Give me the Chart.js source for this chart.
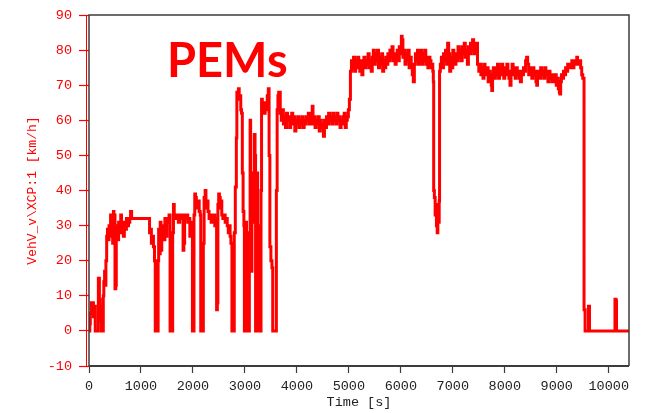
<!DOCTYPE html>
<html>
<head>
<meta charset="utf-8">
<title>VehV_v</title>
<script src="https://cdn.jsdelivr.net/npm/chart.js@4.4.1/dist/chart.umd.min.js"></script>
<style>
  html, body { margin: 0; padding: 0; background: #fff; }
  #speedChart { display: block; }
</style>
</head>
<body>
<canvas id="speedChart" width="649" height="413"></canvas>
<script>
// Vehicle speed trace [time s, speed km/h], split by drive phase
const urbanTrace = [
  [0,0],[15,2],[25,5],[45,8],[70,8],[85,4],[95,7],[110,7],[120,0],[170,0],[180,15],[195,15],
  [200,9],[215,7],[235,3],[240,0],[270,0],[275,10],[285,14],[300,17],[315,13],[325,20],[340,27],
  [355,29],[370,26],[385,30],[400,28],[415,33],[425,27],[440,31],[455,25],[470,34],[480,29],
  [490,33],[500,12],[515,13],[525,28],[540,30],[555,26],[570,31],[590,29],[610,33],[625,28],
  [640,30],[660,27],[680,31],[700,29],[720,32],[740,30],[760,31],[785,32],[800,34],[820,32],
  [900,32],[1000,32],[1100,32],[1150,32],[1165,28],[1185,29],[1200,25],[1215,27],[1240,24],
  [1260,20],[1275,0],[1320,0],[1330,20],[1340,29],[1355,22],[1370,31],[1385,23],[1400,28],
  [1420,30],[1440,26],[1460,32],[1480,27],[1500,31],[1520,32],[1540,33],[1560,0],[1600,0],
  [1610,28],[1625,36],[1640,33],[1660,33],[1680,32],[1700,33],[1720,31],[1745,32],[1760,33],
  [1790,32],[1810,23],[1825,25],[1840,33],[1860,32],[1880,33],[1900,31],[1920,32],[1940,27],
  [1960,31],[1975,29],[1990,0],[2010,0],[2020,33],[2035,39],[2050,38],[2065,36],[2085,35],
  [2100,37],[2120,34],[2140,33],[2150,0],[2190,0],[2200,25],[2215,38],[2235,40],[2250,35],
  [2270,37],[2290,34],[2310,32],[2330,33],[2350,31],[2370,32],[2385,31],[2400,33],[2420,30],
  [2440,32],[2455,6],[2470,8],[2480,36],[2495,39],[2510,38],[2525,35],[2540,37],[2555,33],
  [2575,32],[2600,33],[2620,31],[2640,32],[2660,30],[2680,28],[2700,30],[2715,27],[2730,25],
  [2750,0],[2780,0],[2795,28],[2815,41],[2835,55],[2845,68],[2860,67],[2875,69],[2890,66],
  [2905,67],[2920,63],[2935,62],[2950,45],[2965,34],[2980,30],[2990,0],[3005,0],[3015,31],
  [3030,28],[3045,27],[3060,0],[3075,0],[3085,20],[3100,60],[3110,30],[3120,17],[3135,31],
  [3150,38],[3165,45],[3180,56],[3195,50],[3205,0],[3220,0],[3230,45],[3245,30],[3260,15],
  [3275,0],[3300,0],[3310,40],[3320,66],[3335,63],[3350,64],[3370,62],[3390,65],[3410,63],
  [3430,67],[3450,69],[3465,50],[3480,24],[3500,20],[3520,18],[3535,0],[3590,0],[3605,40],
  [3620,63],[3635,67],[3650,68]
];

const ruralTrace = [
  [3680,62],[3700,60],[3720,63],[3740,59],[3760,61],[3780,58],[3800,62],[3820,60],[3840,61],
  [3860,58],[3880,60],[3900,62],[3920,59],[3940,61],[3960,57],[3980,60],[4000,59],[4020,61],
  [4040,58],[4060,60],[4080,59],[4100,61],[4120,58],[4140,60],[4160,59],[4180,61],[4200,60],
  [4220,62],[4240,59],[4260,61],[4280,60],[4295,64],[4310,59],[4330,61],[4350,58],[4370,60],
  [4390,59],[4410,61],[4430,57],[4450,60],[4470,58],[4490,59],[4510,55.5],[4530,60],[4550,58],
  [4570,61],[4590,59],[4610,62],[4630,60],[4650,61],[4670,59],[4690,62],[4710,60],[4730,61],
  [4750,59],[4770,62],[4790,60],[4810,61],[4830,58],[4850,60],[4870,59],[4890,61],[4910,62],
  [4930,58],[4950,60],[4970,61],[4990,63],[5010,66]
];

const motorwayTrace = [
  [5030,74],[5050,77],[5070,75],[5090,78],[5110,74],[5130,77],[5150,75],[5170,78],[5190,76],
  [5210,74],[5230,77],[5250,73],[5270,76],[5290,78],[5310,75],[5330,77],[5350,76],[5370,79],
  [5390,75],[5410,77],[5430,74],[5450,78],[5470,80],[5490,76],[5510,79],[5530,77],[5550,80],
  [5570,75],[5590,78],[5610,76],[5630,79],[5650,74],[5670,77],[5690,75],[5710,78],[5730,76],
  [5750,79],[5770,77],[5790,80],[5810,78],[5830,81],[5850,77],[5870,79],[5890,76],[5910,78],
  [5930,80],[5950,77],[5970,81],[5990,79],[6010,84],[6025,83],[6040,78],[6060,80],[6080,76],
  [6100,79],[6120,77],[6140,80],[6160,75],[6180,78],[6200,76],[6220,73],[6240,71],[6260,76],
  [6280,79],[6300,77],[6320,80],[6340,76],[6360,78],[6380,80],[6400,76],[6420,79],[6440,77],
  [6460,80],[6480,76],[6500,78],[6520,75],[6540,78],[6560,77],[6580,75],[6600,76],[6615,74],
  [6625,71],[6632,40],[6645,38],[6660,33],[6672,36],[6685,30],[6700,28],[6712,34],[6725,31],
  [6738,37],[6745,74],[6760,76],[6780,78],[6800,75],[6820,79],[6840,77],[6860,80],[6880,76],
  [6900,82],[6920,79],[6940,74],[6960,78],[6980,75],[7000,80],[7020,78],[7040,76],[7060,79],
  [7080,77],[7100,81],[7120,78],[7140,80],[7160,77],[7180,81],[7200,79],[7220,82],[7240,78],
  [7260,80],[7280,76],[7300,81],[7320,79],[7340,82],[7360,80],[7380,83],[7400,79],[7420,82],
  [7440,81],[7460,82],[7475,76],[7500,74],[7520,76],[7540,73],[7560,75],[7580,72],[7600,76],
  [7620,74],[7640,73],[7660,75],[7680,71],[7700,74],[7720,72],[7740,70],[7750,68.5],[7765,73],
  [7780,75],[7800,72],[7820,75],[7840,73],[7860,76],[7880,72],[7900,75],[7920,73],[7940,76],
  [7960,74],[7980,72],[8000,75],[8020,73],[8040,76],[8060,74],[8080,72],[8100,70],[8120,74],
  [8140,76],[8160,73],[8180,75],[8200,72],[8220,75],[8240,73],[8260,74],[8280,72],[8300,71],
  [8320,74],[8340,73],[8360,75],[8380,74],[8400,77],[8420,78],[8440,76],[8460,73],[8480,75],
  [8500,74],[8520,72],[8540,75],[8560,73],[8580,74],[8600,71],[8615,70],[8630,73],[8650,74],
  [8670,72],[8690,75],[8710,73],[8730,74],[8750,72],[8770,75],[8790,73],[8810,74],[8830,71],
  [8850,74],[8870,72],[8890,73],[8910,71],[8930,73],[8950,71],[8970,73],[8990,70],[9010,72],
  [9030,69],[9050,68],[9060,67.5],[9075,71],[9090,73],[9110,72],[9130,74],[9150,73],[9170,75],
  [9190,74],[9210,76],[9230,75],[9250,76],[9270,75],[9290,77],[9310,75],[9330,76],[9350,77],
  [9370,76],[9385,78],[9400,77],[9420,76],[9440,77],[9460,75],[9480,73],[9500,72],[9515,72]
];

const stopTrace = [
  [9525,6],[9540,6],[9545,0],[9600,0],[9610,7],[9625,7],[9630,0],[10110,0],[10120,9],
  [10140,8.5],[10150,0],[10390,0]
];

const xTickValues = [0, 1000, 2000, 3000, 4000, 5000, 6000, 7000, 8000, 9000, 10000];
const xMax = 10390;
const yMin = -10;
const yMax = 90;
const yStep = 10;

const chartTitle = 'PEMs';
const xAxisTitle = 'Time [s]';
const yAxisTitle = 'VehV_v\\XCP:1 [km/h]';

const traceColor = '#ff0000';
const frameColor = '#3c3c3c';
const monoFont = '"Liberation Mono", "DejaVu Sans Mono", monospace';

const tracePoints = [...urbanTrace, ...ruralTrace, ...motorwayTrace, ...stopTrace]
  .map(([t, v]) => ({ x: t, y: v }));

// frame around the plot, red speed axis line and the big caption
const framePlugin = {
  id: 'plotFrame',
  afterDraw(chart) {
    const { ctx, chartArea: a } = chart;
    ctx.save();
    ctx.strokeStyle = frameColor;
    ctx.lineWidth = 1.5;
    ctx.beginPath();
    ctx.moveTo(a.left, a.bottom);
    ctx.lineTo(a.left, a.top);
    ctx.lineTo(a.right, a.top);
    ctx.lineTo(a.right, a.bottom);
    ctx.stroke();

    ctx.lineWidth = 2;
    ctx.beginPath();
    ctx.moveTo(a.left, a.bottom);
    ctx.lineTo(a.right, a.bottom);
    ctx.stroke();

    // speed axis sits just left of the frame
    ctx.strokeStyle = traceColor;
    ctx.lineWidth = 1;
    ctx.beginPath();
    ctx.moveTo(Math.round(a.left) - 2.5, a.top);
    ctx.lineTo(Math.round(a.left) - 2.5, a.bottom);
    ctx.stroke();

    ctx.fillStyle = traceColor;
    ctx.font = 'bold 47px Lato, "Open Sans", sans-serif';
    ctx.textBaseline = 'alphabetic';
    ctx.textAlign = 'left';
    ctx.fillText(chartTitle, 167, 77);
    ctx.restore();
  }
};

const ctx = document.getElementById('speedChart').getContext('2d');
new Chart(ctx, {
  type: 'line',
  data: {
    datasets: [{
      data: tracePoints,
      borderColor: traceColor,
      borderWidth: 3,
      pointRadius: 0,
      stepped: true,
      fill: false
    }]
  },
  options: {
    responsive: false,
    animation: false,
    events: [],
    layout: { padding: { left: 0, top: 11, right: 20, bottom: 0 } },
    plugins: {
      legend: { display: false },
      tooltip: { enabled: false }
    },
    scales: {
      x: {
        type: 'linear',
        min: 0,
        max: xMax,
        afterBuildTicks(scale) {
          scale.ticks = xTickValues.map(v => ({ value: v }));
        },
        afterFit(scale) { scale.height = 47; },
        border: { display: false },
        grid: {
          drawOnChartArea: false,
          drawTicks: true,
          tickLength: 7,
          tickColor: frameColor,
          tickWidth: 1.2
        },
        ticks: {
          color: '#222',
          font: { family: monoFont, size: 13.5 },
          padding: 5,
          maxRotation: 0,
          autoSkip: false,
          callback: v => String(v)
        },
        title: {
          display: true,
          text: xAxisTitle,
          color: '#222',
          font: { family: monoFont, size: 13.5 },
          padding: { top: 0, bottom: 2 }
        }
      },
      y: {
        min: yMin,
        max: yMax,
        afterFit(scale) { scale.width = 89; },
        border: { display: false },
        grid: {
          drawOnChartArea: false,
          drawTicks: true,
          tickLength: 10,
          tickColor: traceColor,
          tickWidth: 1.2
        },
        ticks: {
          stepSize: yStep,
          color: traceColor,
          font: { family: monoFont, size: 13.5 },
          padding: 7
        },
        title: {
          display: true,
          text: yAxisTitle,
          color: traceColor,
          font: { family: monoFont, size: 13 },
          padding: { top: 25, bottom: 0 }
        }
      }
    }
  },
  plugins: [framePlugin]
});
</script>
</body>
</html>
